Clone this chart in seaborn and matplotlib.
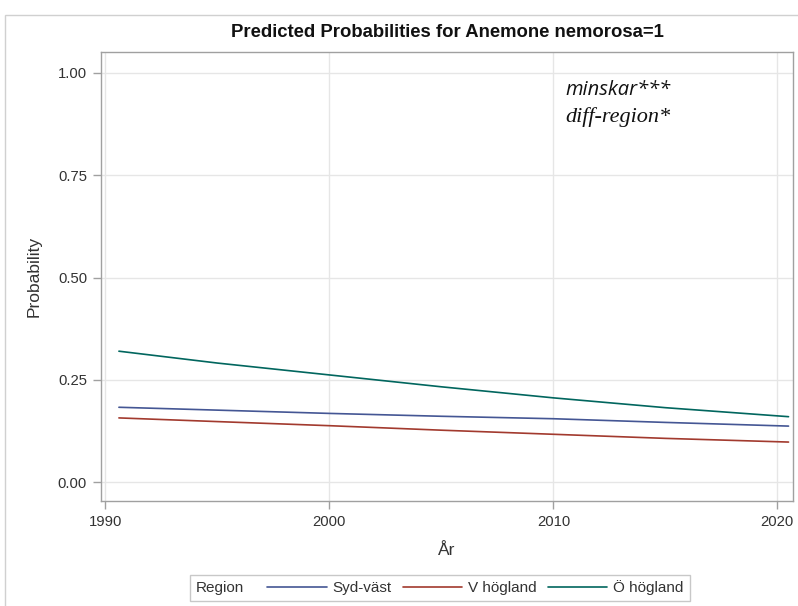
import matplotlib
matplotlib.use("Agg")
import matplotlib.pyplot as plt
import seaborn as sns
import pandas as pd
from matplotlib.lines import Line2D
from matplotlib.patches import Rectangle

# ---- data ----
years = [1990.6, 1995, 2000, 2005, 2010, 2015, 2020.5]
syd_vast = [0.183, 0.176, 0.168, 0.161, 0.155, 0.146, 0.137]
v_hogland = [0.157, 0.148, 0.138, 0.127, 0.117, 0.107, 0.098]
o_hogland = [0.320, 0.291, 0.262, 0.233, 0.206, 0.182, 0.160]
regions = ["Syd-väst", "V högland", "Ö högland"]
colors = ["#445694", "#A23A2E", "#01665E"]
x_ticks = [1990, 2000, 2010, 2020]
y_ticks = [0.00, 0.25, 0.50, 0.75, 1.00]

df = pd.DataFrame({
    "År": years * 3,
    "Probability": syd_vast + v_hogland + o_hogland,
    "Region": [regions[0]] * len(years) + [regions[1]] * len(years) + [regions[2]] * len(years),
})

sns.set_theme(style="white")
plt.rcParams["font.family"] = ["Liberation Sans", "DejaVu Sans"]

W, H = 798, 606
fig = plt.figure(figsize=(W / 100, H / 100), dpi=100)
ax = fig.add_axes([101 / W, 1 - 501 / H, (793 - 101) / W, (501 - 52) / H])

sns.lineplot(data=df, x="År", y="Probability", hue="Region", hue_order=regions,
             palette=colors, linewidth=1.2, ax=ax, legend=False)

ax.set_xlim(1989.8, 2020.7)
ax.set_ylim(-0.046, 1.051)
ax.set_xticks(x_ticks)
ax.set_yticks(y_ticks)
ax.set_yticklabels([f"{v:.2f}" for v in y_ticks])
ax.grid(True, color="#e6e6e6", linewidth=1)
ax.set_axisbelow(True)
for s in ax.spines.values():
    s.set_color("#a0a0a0")
    s.set_linewidth(1)
ax.tick_params(axis="both", which="major", direction="out", length=6, width=1,
               color="#a0a0a0", labelsize=10.7, labelcolor="#333333", pad=4,
               bottom=True, left=True)
ax.set_xlabel("År", fontsize=12.5, color="#333333", labelpad=10)
ax.set_ylabel("Probability", fontsize=12.5, color="#333333", labelpad=12)
ax.set_title("Predicted Probabilities for Anemone nemorosa=1", fontsize=13.3,
             fontweight="bold", color="#111111", pad=11)

fig.text(565 / W, 1 - 90 / H, "minskar***",
         fontsize=14.5, style="italic", family=["Open Sans", "DejaVu Sans"],
         color="#111111", va="center", ha="left")
fig.text(565 / W, 1 - 117 / H, "diff-region*",
         fontsize=16, style="italic", family=["Liberation Serif", "DejaVu Serif"],
         color="#111111", va="center", ha="left")

# legend
handles = [Line2D([0], [0], color=c, linewidth=1.2) for c in colors]
leg = fig.legend(handles, regions, loc="center left",
                 bbox_to_anchor=(267 / W, 1 - 588 / H), ncol=3, frameon=False,
                 fontsize=11, handlelength=3.9, handletextpad=0.4,
                 columnspacing=0.7, borderpad=0.0, borderaxespad=0.0)
for t in leg.get_texts():
    t.set_color("#333333")
fig.text(196 / W, 1 - 588 / H, "Region", fontsize=11, color="#333333",
         va="center", ha="left")
fig.canvas.draw()
bb = leg.get_window_extent()
x1 = bb.x1 / W + 6 / W
fig.patches.append(Rectangle((190 / W, 1 - 601 / H), x1 - 190 / W, 26 / H,
                             transform=fig.transFigure, fill=False,
                             edgecolor="#c8c8c8", linewidth=1))

# outer border
fig.patches.append(Rectangle((5 / W, -0.01), 1.0, 1 - 15 / H + 0.01,
                             transform=fig.transFigure, fill=False,
                             edgecolor="#d0d0d0", linewidth=1))

fig.savefig("out.png", dpi=100)
